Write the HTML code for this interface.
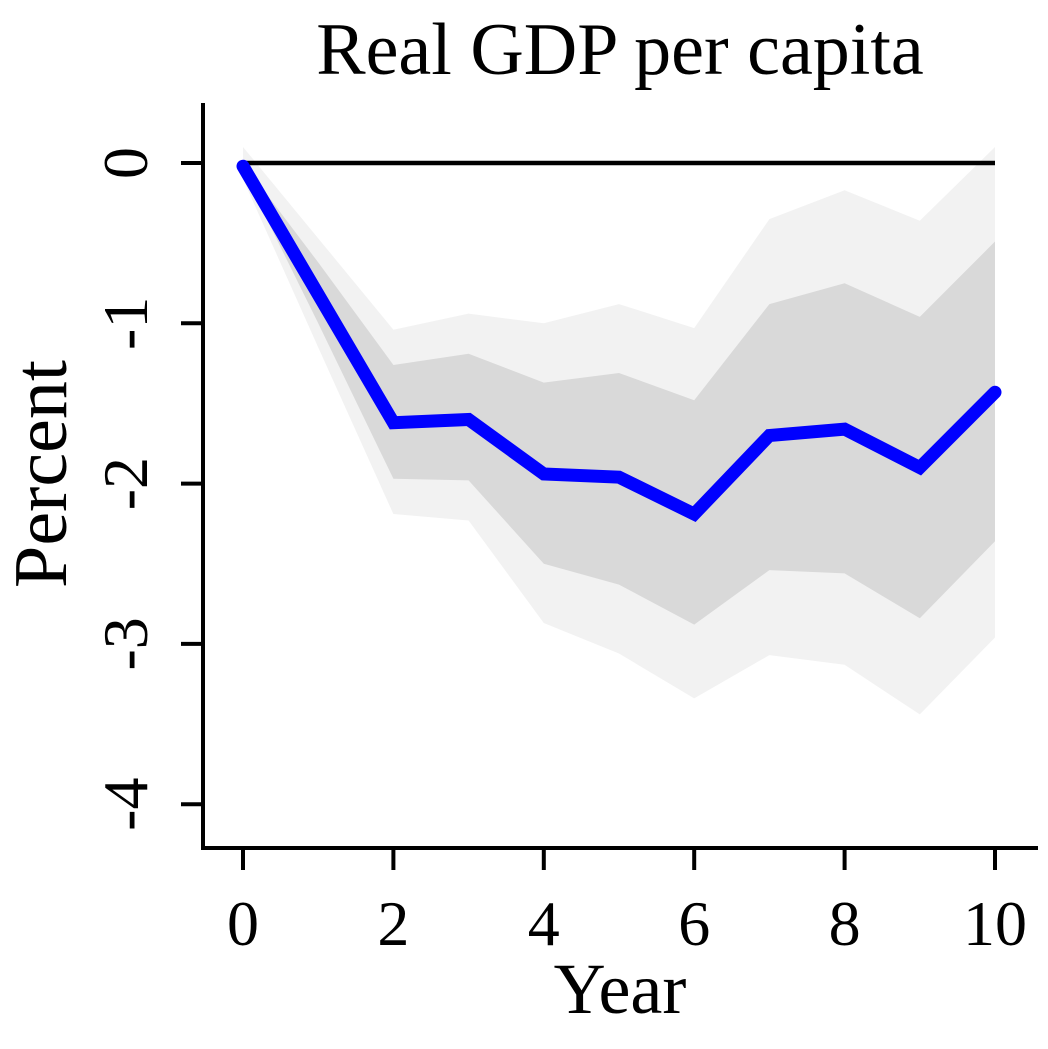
<!DOCTYPE html>
<html><head><meta charset="utf-8"><style>
html,body{margin:0;padding:0;background:#fff;}
svg text{font-family:"Liberation Serif",serif;fill:#000;}
</style></head><body>
<svg id="chart" width="1048" height="1044" viewBox="0 0 1048 1044" xmlns="http://www.w3.org/2000/svg">
<text x="620" y="74" font-size="74" text-anchor="middle">Real GDP per capita</text>
<g id="bands"></g>
<g id="axes"></g>
<g id="series"></g>
<text x="620" y="1013" font-size="72" text-anchor="middle">Year</text>
<text transform="translate(66,474) rotate(-90)" font-size="76" text-anchor="middle">Percent</text>
</svg>
<script>
const years = [0,1,2,3,4,5,6,7,8,9,10];
const estimate = [-0.02,-0.82,-1.62,-1.6,-1.94,-1.96,-2.19,-1.7,-1.66,-1.9,-1.43];
const innerUpper = [0.0,-0.62,-1.26,-1.19,-1.37,-1.31,-1.48,-0.88,-0.75,-0.96,-0.49];
const innerLower = [-0.05,-1.0,-1.97,-1.98,-2.5,-2.63,-2.88,-2.54,-2.56,-2.84,-2.36];
const outerUpper = [0.1,-0.47,-1.04,-0.94,-1.0,-0.88,-1.03,-0.35,-0.17,-0.36,0.1];
const outerLower = [-0.1,-1.15,-2.19,-2.23,-2.87,-3.06,-3.34,-3.07,-3.13,-3.44,-2.96];
const xTicks = [0,2,4,6,8,10];
const yTicks = [0,-1,-2,-3,-4];

const NS="http://www.w3.org/2000/svg";
const xs = v => 243 + v*75.2;
const ys = v => 163 - v*160.3;
function mk(tag, parent, attrs){const e=document.createElementNS(NS,tag);for(const k in attrs)e.setAttribute(k,attrs[k]);parent.appendChild(e);return e;}
const bands=document.getElementById('bands'), axes=document.getElementById('axes'), series=document.getElementById('series');
function bandPts(up,lo){let p=years.map((y,i)=>xs(y)+','+ys(up[i]));for(let i=years.length-1;i>=0;i--)p.push(xs(years[i])+','+ys(lo[i]));return p.join(' ');}
const ob=mk('polygon',bands,{points:bandPts(outerUpper,outerLower),fill:'#f2f2f2'});


const ib=mk('polygon',bands,{points:bandPts(innerUpper,innerLower),fill:'#d9d9d9'});


const zl=mk('line',series,{x1:xs(0),x2:xs(10),y1:ys(0),y2:ys(0),stroke:'#000','stroke-width':4.5});


const ln=mk('polyline',series,{points:years.map((y,i)=>xs(y)+','+ys(estimate[i])).join(' '),fill:'none',stroke:'#0000ff','stroke-width':13,'stroke-linejoin':'miter','stroke-linecap':'round'});


const ya=mk('line',axes,{x1:203,x2:203,y1:103,y2:850,stroke:'#000','stroke-width':4});


const xa=mk('line',axes,{x1:201,x2:1038,y1:848,y2:848,stroke:'#000','stroke-width':4});


yTicks.forEach(v=>{
  const t=mk('line',axes,{x1:181,x2:203,y1:ys(v),y2:ys(v),stroke:'#000','stroke-width':4});
  
  
  const l=mk('text',axes,{transform:`translate(147,${ys(v)}) rotate(-90)`,'font-size':64,'text-anchor':'middle'});
  l.textContent=String(v);
  
  
});
xTicks.forEach(v=>{
  const t=mk('line',axes,{x1:xs(v),x2:xs(v),y1:848,y2:870,stroke:'#000','stroke-width':4});
  
  
  const l=mk('text',axes,{x:xs(v),y:945,'font-size':64,'text-anchor':'middle'});
  l.textContent=String(v);
  
  
});
</script>
</body></html>
